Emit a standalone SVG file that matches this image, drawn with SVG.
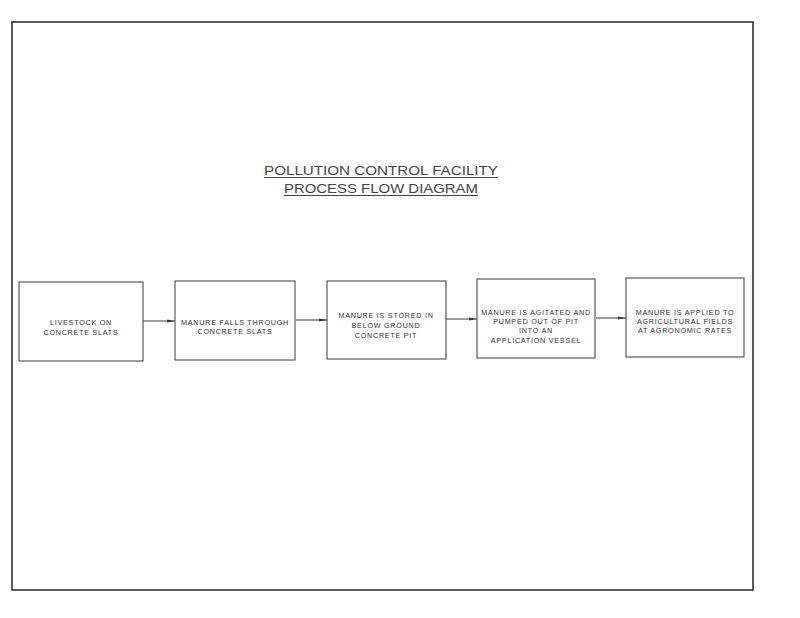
<svg xmlns="http://www.w3.org/2000/svg" width="800" height="618" viewBox="0 0 800 618">
<style>
.frame{fill:none;stroke:#333;stroke-width:1.6}
.box{fill:#fff;stroke:#3a3a3a;stroke-width:1}
.t{font-family:"Liberation Sans",Arial,sans-serif;font-size:7.2px;letter-spacing:0.75px;fill:#333;text-anchor:middle}
.title{font-family:"Liberation Sans",Arial,sans-serif;font-size:13.5px;fill:#444;text-anchor:middle}
.ul{stroke:#444;stroke-width:1}
.c{stroke:#3a3a3a;stroke-width:1;fill:none;marker-end:url(#ah)}
</style>
<defs>
<marker id="ah" markerWidth="8" markerHeight="4" refX="8" refY="2" orient="auto" markerUnits="userSpaceOnUse">
<path d="M0,0.5 L8,2 L0,3.5 Z" fill="#3a3a3a"/>
</marker>
</defs>
<rect width="800" height="618" fill="#fff"/>
<rect class="frame" x="12" y="22" width="741" height="568"/>
<g id="title">
<text class="title" x="381" y="175" textLength="234" lengthAdjust="spacingAndGlyphs">POLLUTION CONTROL FACILITY</text>
<line class="ul" x1="264" y1="177.5" x2="498" y2="177.5"/>
<text class="title" x="381" y="193" textLength="194" lengthAdjust="spacingAndGlyphs">PROCESS FLOW DIAGRAM</text>
<line class="ul" x1="284" y1="195.5" x2="478" y2="195.5"/>
</g>
<g id="connectors">
<line class="c" x1="143" y1="321" x2="175" y2="321"/>
<line class="c" x1="296" y1="320" x2="327" y2="320"/>
<line class="c" x1="446" y1="319" x2="477" y2="319"/>
<line class="c" x1="596" y1="318" x2="626" y2="318"/>
</g>
<g id="node1">
<rect class="box" x="19" y="282" width="124" height="79"/>
<text class="t" x="81" y="325">LIVESTOCK ON</text>
<text class="t" x="81" y="335">CONCRETE SLATS</text>
</g>
<g id="node2">
<rect class="box" x="175" y="281" width="120" height="79"/>
<text class="t" x="235" y="325">MANURE FALLS THROUGH</text>
<text class="t" x="235" y="334">CONCRETE SLATS</text>
</g>
<g id="node3">
<rect class="box" x="327" y="281" width="119" height="78"/>
<text class="t" x="386" y="318">MANURE IS STORED IN</text>
<text class="t" x="386" y="328">BELOW GROUND</text>
<text class="t" x="386" y="338">CONCRETE PIT</text>
</g>
<g id="node4">
<rect class="box" x="477" y="279" width="118" height="79"/>
<text class="t" x="536" y="315">MANURE IS AGITATED AND</text>
<text class="t" x="536" y="324">PUMPED OUT OF PIT</text>
<text class="t" x="536" y="333">INTO AN</text>
<text class="t" x="536" y="343">APPLICATION VESSEL</text>
</g>
<g id="node5">
<rect class="box" x="626" y="278" width="118" height="79"/>
<text class="t" x="685" y="315">MANURE IS APPLIED TO</text>
<text class="t" x="685" y="324">AGRICULTURAL FIELDS</text>
<text class="t" x="685" y="333">AT AGRONOMIC RATES</text>
</g>
</svg>
